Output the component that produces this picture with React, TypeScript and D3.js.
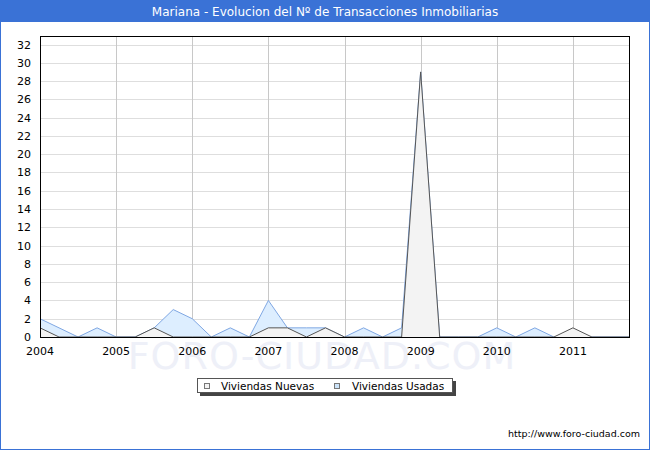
import React from "react";
import * as d3 from "d3";

const title = "Mariana - Evolucion del Nº de Transacciones Inmobiliarias";
const yearLabels = ["2004", "2005", "2006", "2007", "2008", "2009", "2010", "2011"];
const yTicks = [0, 2, 4, 6, 8, 10, 12, 14, 16, 18, 20, 22, 24, 26, 28, 30, 32];
// quarterly values, 2004 Q1 .. 2011 Q4
const nuevas = [1, 0, 0, 0, 0, 0, 1, 0, 0, 0, 0, 0, 1, 1, 0, 1, 0, 0, 0, 0, 29, 0, 0, 0, 0, 0, 0, 0, 1, 0, 0, 0];
const usadas = [2, 1, 0, 1, 0, 0, 1, 3, 2, 0, 1, 0, 4, 1, 1, 1, 0, 1, 0, 1, 29, 0, 0, 0, 1, 0, 1, 0, 0, 0, 0, 0];
const seriesNames = ["Viviendas Nuevas", "Viviendas Usadas"];

const W = 650, H = 450;
const L = 40, R = 630, T = 36, B = 337;
const FONT = "DejaVu Sans, Verdana, sans-serif";

export default function App() {
  const x = d3.scaleLinear().domain([0, 31]).range([L, R]);
  const y = d3.scaleLinear().domain([0, 32]).range([B, 44.5]);
  const idx = d3.range(32);

  const area = (vals: number[]) =>
    d3.area<number>().x((i) => x(i)).y0(B).y1((i) => y(vals[i]))(idx) || "";
  const line = (vals: number[]) =>
    d3.line<number>().x((i) => x(i)).y((i) => y(vals[i]))(idx) || "";

  return (
    <svg width={W} height={H} style={{ position: "absolute", left: 0, top: 0, display: "block" }} xmlns="http://www.w3.org/2000/svg">
      <rect x={0.5} y={0.5} width={W - 1} height={H - 1} fill="#fff" stroke="#3a72d6" />
      <rect x={0} y={0} width={W} height={22} fill="#3a72d6" />
      <text x={W / 2} y={15.5} textAnchor="middle" fill="#fff" fontFamily={FONT} fontSize={12}>{title}</text>

      {/* grid */}
      {yTicks.map((t) => (
        <line key={"h" + t} x1={L} x2={R} y1={Math.round(y(t)) + 0.5} y2={Math.round(y(t)) + 0.5} stroke="#dedede" />
      ))}
      {yearLabels.map((_, k) => (
        <line key={"v" + k} x1={Math.round(x(k * 4)) + 0.5} x2={Math.round(x(k * 4)) + 0.5} y1={T} y2={B} stroke="#c8c8c8" />
      ))}

      {/* watermark */}
      <text x={322} y={369} textAnchor="middle" fill="#eef0f8" fontFamily={FONT} fontSize={38} letterSpacing={1}>FORO-CIUDAD.COM</text>

      {/* series */}
      <path d={area(usadas)} fill="#ddeeff" />
      <path d={line(usadas)} fill="none" stroke="#7fa7e3" strokeWidth={1} />
      <path d={area(nuevas)} fill="#f3f3f3" />
      <path d={line(nuevas)} fill="none" stroke="#555" strokeWidth={1} />

      {/* frame */}
      <rect x={L + 0.5} y={T + 0.5} width={R - L - 1} height={B - T} fill="none" stroke="#000" />

      {/* y labels */}
      {yTicks.map((t) => (
        <text key={"yl" + t} x={31} y={y(t) + 4} textAnchor="end" fontFamily={FONT} fontSize={11} fill="#000">{t}</text>
      ))}
      {/* x labels */}
      {yearLabels.map((lab, k) => (
        <text key={"xl" + k} x={x(k * 4)} y={355} textAnchor="middle" fontFamily={FONT} fontSize={11} fill="#000">{lab}</text>
      ))}

      {/* legend */}
      <rect x={200} y={381} width={256} height={15} fill="#444" />
      <rect x={197.5} y={378.5} width={255} height={14} fill="#fff" stroke="#555" />
      <rect x={204.5} y={383.5} width={5} height={5} fill="#f3f3f3" stroke="#777" />
      <text x={221} y={390} fontFamily={FONT} fontSize={10.5} fill="#000">{seriesNames[0]}</text>
      <rect x={334.5} y={383.5} width={5} height={5} fill="#cce4fa" stroke="#777" />
      <text x={352} y={390} fontFamily={FONT} fontSize={10.5} fill="#000">{seriesNames[1]}</text>

      <text x={640} y={437} textAnchor="end" fontFamily={FONT} fontSize={9.5} fill="#000">http://www.foro-ciudad.com</text>
    </svg>
  );
}
